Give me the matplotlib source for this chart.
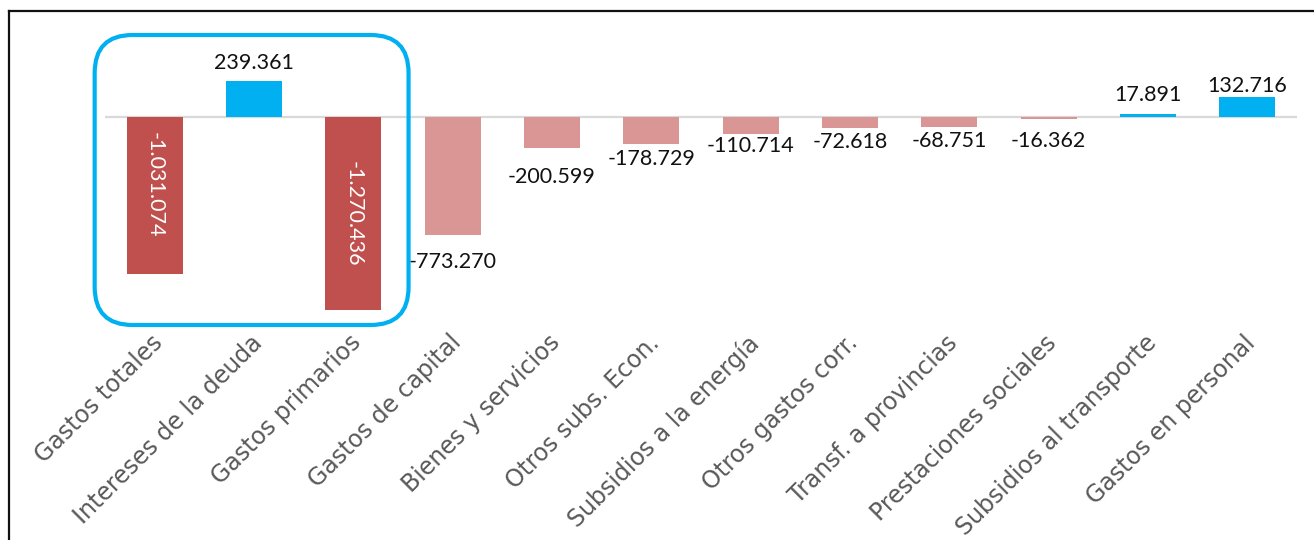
import matplotlib
matplotlib.use("Agg")
import matplotlib.pyplot as plt
from matplotlib.patches import FancyBboxPatch
from matplotlib.lines import Line2D
from matplotlib.transforms import ScaledTranslation
import numpy as np

categories = ["Gastos totales", "Intereses de la deuda", "Gastos primarios",
              "Gastos de capital", "Bienes y servicios", "Otros subs. Econ.",
              "Subsidios a la energía", "Otros gastos corr.", "Transf. a provincias",
              "Prestaciones sociales", "Subsidios al transporte", "Gastos en personal"]
values = [-1031074, 239361, -1270436, -773270, -200599, -178729, -110714,
          -72618, -68751, -16362, 17891, 132716]
value_labels = ["-1.031.074", "239.361", "-1.270.436", "-773.270", "-200.599",
                "-178.729", "-110.714", "-72.618", "-68.751", "-16.362",
                "17.891", "132.716"]

# styling
DARK_RED = "#C0504D"
LIGHT_RED = "#D99694"
BLUE = "#00B0F0"
highlight = [True, True, True] + [False] * 9
label_inside = [True, False, True] + [False] * 9
inside_frac = [0.43, 0, 0.5] + [0] * 9
label_offset_px = [0, 17.5, 0, 27.5, 29, 14.5, 12, 13.5, 14, 22, 19, 10.5]

plt.rcParams['font.family'] = ['Lato', 'DejaVu Sans']

W, H = 1314, 540
fig = plt.figure(figsize=(W / 100, H / 100), dpi=100)
fig.patch.set_facecolor("white")

ax_left, ax_right, ax_top, ax_bottom = 105, 1297, 20, 325
ax = fig.add_axes([ax_left / W, (H - ax_bottom) / H,
                   (ax_right - ax_left) / W, (ax_bottom - ax_top) / H])

zero_y = 117
scale = 0.1523 / 1000  # px per unit
ax.set_ylim(-(ax_bottom - zero_y) / scale, (zero_y - ax_top) / scale)
ax.set_xlim(-0.5, len(categories) - 0.5)

x = np.arange(len(categories))
colors = []
for v, hl in zip(values, highlight):
    if v >= 0:
        colors.append(BLUE)
    else:
        colors.append(DARK_RED if hl else LIGHT_RED)

ax.axhline(0, color="#D9D9D9", lw=1.6, zorder=1)
ax.bar(x, values, width=0.563, color=colors, zorder=2)

for xi, v, lab, ins, frac, off in zip(x, values, value_labels, label_inside,
                                      inside_frac, label_offset_px):
    if ins:
        ax.text(xi, v * frac, lab, rotation=270, ha="center", va="center",
                color="white", fontsize=15.5, zorder=3)
    else:
        dy = off if v >= 0 else -off
        ax.annotate(lab, (xi, v), xytext=(0, dy), textcoords="offset pixels",
                    ha="center", va="center", fontsize=15.5, color="#111111",
                    zorder=3)

ax.set_xticks(x)
ax.set_xticklabels(categories, rotation=45, ha="right", va="top",
                   rotation_mode="anchor", fontsize=17, color="#595959",
                   family=["DejaVu Sans"])
ax.tick_params(axis="x", length=0, pad=4)
shift = ScaledTranslation(-4 / 100, 0, fig.dpi_scale_trans)
for lbl in ax.get_xticklabels():
    lbl.set_transform(lbl.get_transform() + shift)
ax.set_yticks([])
for s in ax.spines.values():
    s.set_visible(False)
ax.patch.set_visible(False)

# highlight rounded box around first three bars (display coords)
fig.canvas.draw()
p0 = ax.transData.transform((-0.604, 0))
p1 = ax.transData.transform((2.556, 0))
box_x0, box_x1 = p0[0], p1[0]
box_y0, box_y1 = H - 325, H - 35
box = FancyBboxPatch((box_x0, box_y0), box_x1 - box_x0, box_y1 - box_y0,
                     boxstyle="round,pad=0,rounding_size=38",
                     transform=None, fill=False, edgecolor=BLUE,
                     linewidth=3.0, zorder=5)
fig.add_artist(box)

# outer frame (left and top)
fig.add_artist(Line2D([8.5 / W, 8.5 / W], [0, (H - 10.5) / H],
                      transform=fig.transFigure, color="#111111", lw=1.6))
fig.add_artist(Line2D([8.5 / W, 1], [(H - 10.5) / H, (H - 10.5) / H],
                      transform=fig.transFigure, color="#111111", lw=1.6))

fig.savefig("out.png", dpi=100)
